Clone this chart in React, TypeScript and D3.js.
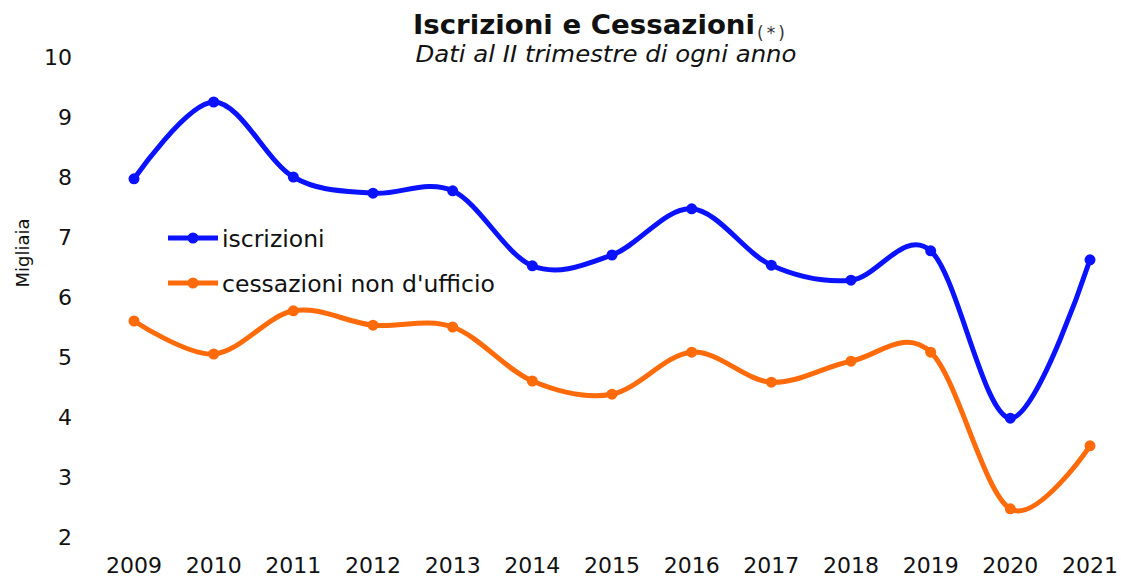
import React from "react";
import * as d3 from "d3";

const years = ["2009","2010","2011","2012","2013","2014","2015","2016","2017","2018","2019","2020","2021"];
const iscrizioni = [7.97, 9.25, 8.0, 7.73, 7.77, 6.52, 6.7, 7.47, 6.53, 6.28, 6.77, 3.98, 6.62];
const cessazioni = [5.6, 5.05, 5.77, 5.53, 5.5, 4.6, 4.38, 5.08, 4.58, 4.93, 5.08, 2.47, 3.52];
const yTicks = [2, 3, 4, 5, 6, 7, 8, 9, 10];
const seriesNames = ["iscrizioni", "cessazioni non d'ufficio"];
const colors = ["#0A12FF", "#FF6A0A"];

export default function App() {
  const W = 1121, H = 577;
  const x = d3.scalePoint<string>().domain(years).range([134, 1090]);
  const y = d3.scaleLinear().domain([2, 10]).range([537, 57]);
  const line = d3.line<number>()
    .x((_, i) => x(years[i]) as number)
    .y((d) => y(d))
    .curve(d3.curveCardinal.tension(0));
  const font = "'DejaVu Sans', Verdana, sans-serif";
  const series = [iscrizioni, cessazioni];
  return (
    <svg width={W} height={H} style={{ position: "absolute", left: 0, top: 0, background: "#fff" }} fontFamily={font}>
      <text x={413} y={34} fontSize={26} fontWeight="bold" fill="#111" textLength={342} lengthAdjust="spacingAndGlyphs">
        Iscrizioni e Cessazioni
      </text>
      <text x={757} y={39} fontSize={17} fill="#333" letterSpacing={3}>(*)</text>
      <text x={606} y={62} fontSize={23} fontStyle="italic" textAnchor="middle" fill="#111" textLength={381} lengthAdjust="spacingAndGlyphs">Dati al II trimestre di ogni anno</text>
      {yTicks.map((t) => (
        <text key={t} x={72} y={y(t) + 8} fontSize={22} textAnchor="end" fill="#111">{t}</text>
      ))}
      <text transform="translate(29,253) rotate(-90)" fontSize={18} textAnchor="middle" fill="#111">Migliaia</text>
      {years.map((yr) => (
        <text key={yr} x={x(yr) as number} y={573} fontSize={22} textAnchor="middle" fill="#111">{yr}</text>
      ))}
      {series.map((s, k) => (
        <g key={k}>
          <path d={line(s) || ""} fill="none" stroke={colors[k]} strokeWidth={5} />
          {s.map((v, i) => (
            <circle key={i} cx={x(years[i]) as number} cy={y(v)} r={5.5} fill={colors[k]} />
          ))}
        </g>
      ))}
      {seriesNames.map((n, k) => (
        <g key={n} transform={`translate(0,${238 + k * 45})`}>
          <line x1={168} x2={218} y1={0} y2={0} stroke={colors[k]} strokeWidth={5} />
          <circle cx={193} cy={0} r={5.5} fill={colors[k]} />
          <text x={222} y={9} fontSize={23.5} fill="#111">{n}</text>
        </g>
      ))}
    </svg>
  );
}
